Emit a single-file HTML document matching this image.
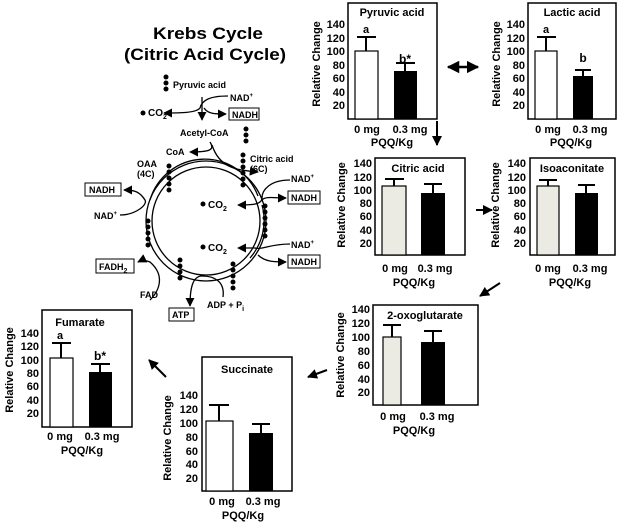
<!DOCTYPE html>
<html><head><meta charset="utf-8"><style>
html,body{margin:0;padding:0;background:#fff;}
svg{display:block;font-family:"Liberation Sans",sans-serif;font-weight:bold;}
</style></head><body>
<svg width="620" height="522" viewBox="0 0 620 522" xmlns="http://www.w3.org/2000/svg">
<defs>
<marker id="ah" viewBox="0 0 10 10" refX="9" refY="5" markerWidth="5" markerHeight="5" orient="auto-start-reverse"><path d="M0,0 L10,5 L0,10 z" fill="#000"/></marker>
<marker id="ah2" viewBox="0 0 10 10" refX="9" refY="5" markerWidth="7" markerHeight="7" orient="auto-start-reverse"><path d="M0,0 L10,5 L0,10 z" fill="#000"/></marker>
</defs>
<g fill="#000">
<text x="208" y="39" font-size="17" text-anchor="middle" textLength="110" lengthAdjust="spacingAndGlyphs">Krebs Cycle</text>
<text x="205" y="60" font-size="17" text-anchor="middle" textLength="162" lengthAdjust="spacingAndGlyphs">(Citric Acid Cycle)</text>

<g stroke="#000" fill="none" stroke-width="1.3">
<circle cx="206" cy="221" r="54"/>
<circle cx="206" cy="221" r="60"/>
<path d="M150,200 A57,57 0 0 1 258,196"/>
<path d="M262,205 A57,57 0 0 1 250,258"/>
<path d="M202,97 L202,120" marker-end="url(#ah2)"/>
<path d="M228,96 C210,96 202,100 200,108 C196,113 180,113 164,113" marker-end="url(#ah2)"/>
<path d="M204,108 C208,114 215,114 226,114" marker-end="url(#ah2)"/>
<path d="M210,142 C215,150 210,152 190,152" marker-end="url(#ah2)"/>
<path d="M212,145 C220,170 240,170 258,172" marker-end="url(#ah2)"/>
<path d="M290,180 C270,180 262,190 262,198 C262,205 250,205 238,205" marker-end="url(#ah2)"/>
<path d="M262,200 C265,196 275,198 286,198" marker-end="url(#ah2)"/>
<path d="M290,244 C270,244 262,250 255,248 L238,248" marker-end="url(#ah2)"/>
<path d="M258,255 C265,262 275,262 286,262" marker-end="url(#ah2)"/>
<path d="M120,215 C135,215 148,205 145,200 C140,192 135,190 124,190" marker-end="url(#ah2)"/>
<path d="M150,300 C160,290 165,275 150,262 C145,260 142,260 138,262" marker-end="url(#ah2)"/>
<path d="M223,297 C225,282 215,276 202,276 C192,276 190,290 190,306" marker-end="url(#ah2)"/>
</g>
<g>
<circle cx="166" cy="77" r="2.5"/><circle cx="166" cy="83" r="2.5"/><circle cx="166" cy="89" r="2.5"/>
<circle cx="246" cy="129" r="2.5"/><circle cx="246" cy="135" r="2.5"/><circle cx="246" cy="141" r="2.5"/>
<circle cx="243" cy="155" r="2.5"/><circle cx="243" cy="161" r="2.5"/><circle cx="243" cy="167" r="2.5"/><circle cx="243" cy="173" r="2.5"/><circle cx="243" cy="179" r="2.5"/><circle cx="243" cy="185" r="2.5"/>
<circle cx="169" cy="166" r="2.5"/><circle cx="169" cy="172" r="2.5"/><circle cx="169" cy="178" r="2.5"/><circle cx="169" cy="184" r="2.5"/><circle cx="169" cy="190" r="2.5"/>
<circle cx="265" cy="206" r="2.5"/><circle cx="265" cy="212" r="2.5"/><circle cx="265" cy="218" r="2.5"/><circle cx="265" cy="224" r="2.5"/><circle cx="265" cy="230" r="2.5"/><circle cx="265" cy="236" r="2.5"/>
<circle cx="148" cy="221" r="2.5"/><circle cx="148" cy="227" r="2.5"/><circle cx="148" cy="233" r="2.5"/><circle cx="148" cy="239" r="2.5"/><circle cx="148" cy="245" r="2.5"/>
<circle cx="180" cy="260" r="2.5"/><circle cx="180" cy="266" r="2.5"/><circle cx="180" cy="272" r="2.5"/><circle cx="180" cy="278" r="2.5"/>
<circle cx="233" cy="264" r="2.5"/><circle cx="233" cy="270" r="2.5"/><circle cx="233" cy="276" r="2.5"/><circle cx="233" cy="282" r="2.5"/><circle cx="233" cy="288" r="2.5"/>
<circle cx="143" cy="113" r="2.5"/><circle cx="203" cy="204" r="2.5"/><circle cx="203" cy="247" r="2.5"/>
</g>
<g font-size="9">
<text x="173" y="88">Pyruvic acid</text>
<text x="230" y="101">NAD<tspan font-size="6" dy="-4">+</tspan></text>
<text x="148" y="116" font-size="10">CO<tspan font-size="7" dy="3">2</tspan></text>
<text x="180" y="136">Acetyl-CoA</text>
<text x="166" y="155">CoA</text>
<text x="250" y="162">Citric acid</text>
<text x="250" y="172">(6C)</text>
<text x="137" y="167">OAA</text>
<text x="137" y="177">(4C)</text>
<text x="291" y="182">NAD<tspan font-size="6" dy="-4">+</tspan></text>
<text x="208" y="208" font-size="10">CO<tspan font-size="7" dy="3">2</tspan></text>
<text x="291" y="248">NAD<tspan font-size="6" dy="-4">+</tspan></text>
<text x="208" y="251" font-size="10">CO<tspan font-size="7" dy="3">2</tspan></text>
<text x="94" y="219">NAD<tspan font-size="6" dy="-4">+</tspan></text>
<text x="140" y="298">FAD</text>
<text x="207" y="308">ADP + P<tspan font-size="7" dy="3">i</tspan></text>
</g>
<g fill="#fff" stroke="#000" stroke-width="1">
<rect x="229" y="108" width="30" height="12"/>
<rect x="85" y="183" width="36" height="13"/>
<rect x="288" y="191" width="32" height="13"/>
<rect x="288" y="255" width="32" height="13"/>
<rect x="96" y="259" width="38" height="14"/>
<rect x="169" y="308" width="25" height="13"/>
</g>
<g font-size="9">
<text x="232" y="118">NADH</text>
<text x="89" y="193">NADH</text>
<text x="291" y="201">NADH</text>
<text x="291" y="265">NADH</text>
<text x="99" y="270">FADH<tspan font-size="7" dy="3">2</tspan></text>
<text x="172" y="318">ATP</text>
</g>

<g stroke="#000" stroke-width="2.5" fill="none">
<path d="M448,67 L478,67" marker-start="url(#ah)" marker-end="url(#ah)"/>
<path d="M437,121 L437,145" stroke-width="2" marker-end="url(#ah)"/>
<path d="M476,210 L492,210" stroke-width="2" marker-end="url(#ah)"/>
<path d="M500,283 L480,296" stroke-width="2" marker-end="url(#ah)"/>
<path d="M327,370 L308,377" stroke-width="2" marker-end="url(#ah)"/>
<path d="M166,377 L149,360" stroke-width="2" marker-end="url(#ah)"/>
</g>

<g>
<rect x="348" y="3" width="89" height="116" fill="#fff" stroke="#000" stroke-width="1.5"/>
<text x="392" y="16" font-size="11" text-anchor="middle">Pyruvic acid</text>
<rect x="355" y="51" width="23" height="68" fill="#fff" stroke="#000" stroke-width="1.2"/>
<rect x="394" y="71" width="23" height="48" fill="#000"/>
<path d="M366,51V37M357,37H376M405,71V63M396,63H415" stroke="#000" stroke-width="2"/>
<text x="366" y="33" font-size="11" text-anchor="middle">a</text>
<text x="405" y="63" font-size="12" text-anchor="middle">b*</text>
<g font-size="11" text-anchor="end"><text x="345" y="28">140</text><text x="345" y="42">120</text><text x="345" y="55">100</text><text x="345" y="69">80</text><text x="345" y="82">60</text><text x="345" y="96">40</text><text x="345" y="109">20</text></g>
<text transform="translate(320,64) rotate(-90)" font-size="11" text-anchor="middle">Relative Change</text>
<text x="367" y="133" font-size="11" text-anchor="middle">0 mg</text>
<text x="410" y="133" font-size="11" text-anchor="middle">0.3 mg</text>
<text x="392" y="146" font-size="11" text-anchor="middle">PQQ/Kg</text>
</g>

<g>
<rect x="528" y="3" width="88" height="116" fill="#fff" stroke="#000" stroke-width="1.5"/>
<text x="572" y="16" font-size="11" text-anchor="middle">Lactic acid</text>
<rect x="535" y="51" width="22" height="68" fill="#fff" stroke="#000" stroke-width="1.2"/>
<rect x="573" y="76" width="20" height="43" fill="#000"/>
<path d="M546,51V37M537,37H556M583,76V70M575,70H591" stroke="#000" stroke-width="2"/>
<text x="546" y="33" font-size="11" text-anchor="middle">a</text>
<text x="583" y="62" font-size="12" text-anchor="middle">b</text>
<g font-size="11" text-anchor="end"><text x="525" y="28">140</text><text x="525" y="42">120</text><text x="525" y="55">100</text><text x="525" y="69">80</text><text x="525" y="82">60</text><text x="525" y="96">40</text><text x="525" y="109">20</text></g>
<text transform="translate(500,64) rotate(-90)" font-size="11" text-anchor="middle">Relative Change</text>
<text x="548" y="133" font-size="11" text-anchor="middle">0 mg</text>
<text x="590" y="133" font-size="11" text-anchor="middle">0.3 mg</text>
<text x="571" y="146" font-size="11" text-anchor="middle">PQQ/Kg</text>
</g>

<g>
<rect x="375" y="158" width="90" height="97" fill="#fff" stroke="#000" stroke-width="1.5"/>
<text x="418" y="172" font-size="11" text-anchor="middle">Citric acid</text>
<rect x="382" y="186" width="24" height="69" fill="#ecebe3" stroke="#000" stroke-width="1.2"/>
<rect x="421" y="193" width="24" height="62" fill="#000"/>
<path d="M394,186V179M385,179H404M433,193V184M424,184H442" stroke="#000" stroke-width="2"/>
<g font-size="11" text-anchor="end"><text x="372" y="167">140</text><text x="372" y="181">120</text><text x="372" y="194">100</text><text x="372" y="207">80</text><text x="372" y="220">60</text><text x="372" y="234">40</text><text x="372" y="247">20</text></g>
<text transform="translate(345,205) rotate(-90)" font-size="11" text-anchor="middle">Relative Change</text>
<text x="395" y="272" font-size="11" text-anchor="middle">0 mg</text>
<text x="435" y="272" font-size="11" text-anchor="middle">0.3 mg</text>
<text x="414" y="286" font-size="11" text-anchor="middle">PQQ/Kg</text>
</g>

<g>
<rect x="530" y="158" width="85" height="97" fill="#fff" stroke="#000" stroke-width="1.5"/>
<text x="572" y="172" font-size="11" text-anchor="middle">Isoaconitate</text>
<rect x="537" y="186" width="22" height="69" fill="#ecebe3" stroke="#000" stroke-width="1.2"/>
<rect x="575" y="193" width="23" height="62" fill="#000"/>
<path d="M548,186V180M539,180H557M586,193V185M578,185H595" stroke="#000" stroke-width="2"/>
<g font-size="11" text-anchor="end"><text x="526" y="167">140</text><text x="526" y="181">120</text><text x="526" y="194">100</text><text x="526" y="207">80</text><text x="526" y="220">60</text><text x="526" y="234">40</text><text x="526" y="247">20</text></g>
<text transform="translate(499,205) rotate(-90)" font-size="11" text-anchor="middle">Relative Change</text>
<text x="548" y="272" font-size="11" text-anchor="middle">0 mg</text>
<text x="590" y="272" font-size="11" text-anchor="middle">0.3 mg</text>
<text x="570" y="286" font-size="11" text-anchor="middle">PQQ/Kg</text>
</g>

<g>
<rect x="373" y="305" width="105" height="100" fill="#fff" stroke="#000" stroke-width="1.5"/>
<text x="425" y="319" font-size="11" text-anchor="middle">2-oxoglutarate</text>
<rect x="383" y="337" width="18" height="68" fill="#ecebe3" stroke="#000" stroke-width="1.2"/>
<rect x="421" y="342" width="24" height="63" fill="#000"/>
<path d="M392,337V325M383,325H401M433,342V331M424,331H442" stroke="#000" stroke-width="2"/>
<g font-size="11" text-anchor="end"><text x="370" y="313">140</text><text x="370" y="327">120</text><text x="370" y="341">100</text><text x="370" y="355">80</text><text x="370" y="369">60</text><text x="370" y="383">40</text><text x="370" y="396">20</text></g>
<text transform="translate(344,355) rotate(-90)" font-size="11" text-anchor="middle">Relative Change</text>
<text x="393" y="420" font-size="11" text-anchor="middle">0 mg</text>
<text x="437" y="420" font-size="11" text-anchor="middle">0.3 mg</text>
<text x="414" y="434" font-size="11" text-anchor="middle">PQQ/Kg</text>
</g>

<g>
<rect x="202" y="357" width="90" height="134" fill="#fff" stroke="#000" stroke-width="1.5"/>
<text x="247" y="373" font-size="11" text-anchor="middle">Succinate</text>
<rect x="206" y="421" width="27" height="70" fill="#fff" stroke="#000" stroke-width="1.2"/>
<rect x="249" y="433" width="24" height="58" fill="#000"/>
<path d="M219,421V405M209,405H229M261,433V424M252,424H270" stroke="#000" stroke-width="2"/>
<g font-size="11" text-anchor="end"><text x="198" y="399">140</text><text x="198" y="413">120</text><text x="198" y="427">100</text><text x="198" y="441">80</text><text x="198" y="455">60</text><text x="198" y="468">40</text><text x="198" y="482">20</text></g>
<text transform="translate(171,438) rotate(-90)" font-size="11" text-anchor="middle">Relative Change</text>
<text x="222" y="505" font-size="11" text-anchor="middle">0 mg</text>
<text x="263" y="505" font-size="11" text-anchor="middle">0.3 mg</text>
<text x="243" y="519" font-size="11" text-anchor="middle">PQQ/Kg</text>
</g>

<g>
<rect x="42" y="310" width="90" height="117" fill="#fff" stroke="#000" stroke-width="1.5"/>
<text x="80" y="326" font-size="11" text-anchor="middle">Fumarate</text>
<rect x="50" y="358" width="23" height="69" fill="#fff" stroke="#000" stroke-width="1.2"/>
<rect x="89" y="372" width="23" height="55" fill="#000"/>
<path d="M61,358V343M52,343H71M100,372V364M91,364H110" stroke="#000" stroke-width="2"/>
<text x="60" y="339" font-size="11" text-anchor="middle">a</text>
<text x="100" y="360" font-size="12" text-anchor="middle">b*</text>
<g font-size="11" text-anchor="end"><text x="39" y="337">140</text><text x="39" y="350">120</text><text x="39" y="364">100</text><text x="39" y="377">80</text><text x="39" y="390">60</text><text x="39" y="404">40</text><text x="39" y="417">20</text></g>
<text transform="translate(13,370) rotate(-90)" font-size="11" text-anchor="middle">Relative Change</text>
<text x="60" y="440" font-size="11" text-anchor="middle">0 mg</text>
<text x="102" y="440" font-size="11" text-anchor="middle">0.3 mg</text>
<text x="82" y="454" font-size="11" text-anchor="middle">PQQ/Kg</text>
</g>
</g>
</svg>
</body></html>
